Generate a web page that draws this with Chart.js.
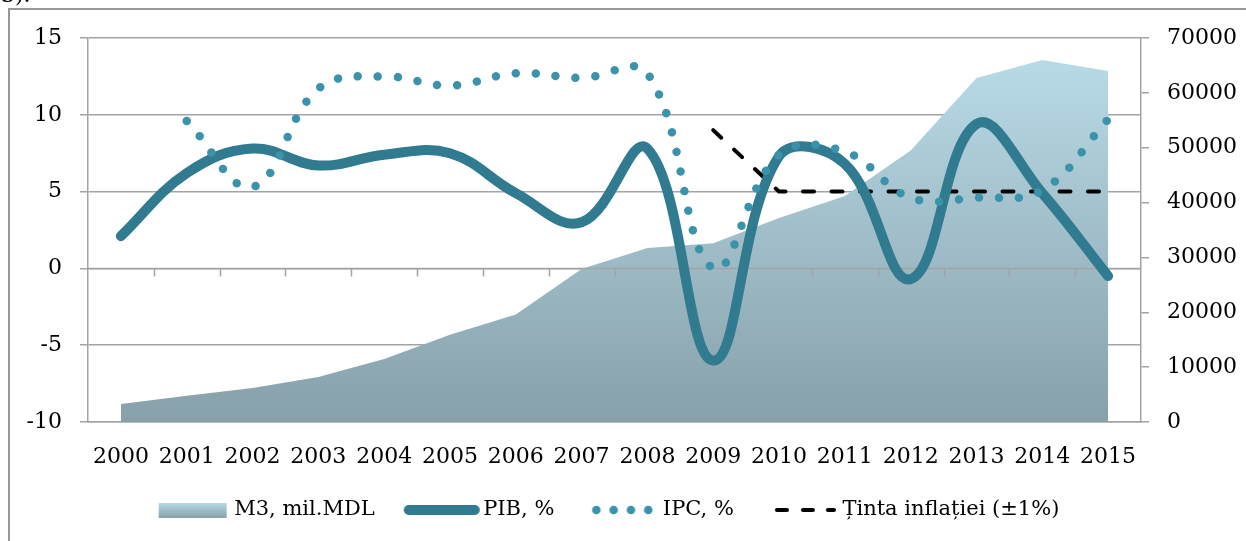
<!DOCTYPE html>
<html>
<head>
<meta charset="utf-8">
<script src="https://cdn.jsdelivr.net/npm/chart.js@4/dist/chart.umd.min.js"></script>
<style>
  html, body { margin: 0; padding: 0; background: #fff; overflow: hidden; }
  #wrap { position: relative; width: 1246px; height: 541px; }
  #frame { position: absolute; left: 8px; top: 8px; width: 1300px; height: 600px; border: 2px solid #979797; pointer-events: none; }
  #note { position: absolute; left: 1px; top: -18px; font: 22px 'DejaVu Serif', serif; color: #000; }
</style>
</head>
<body>
<div id="wrap">
  <canvas id="myChart" width="1246" height="541"></canvas>
  <div id="frame"></div>
  <div id="note">3).</div>
</div>
<script>
// --- data ---
const years = ['2000', '2001', '2002', '2003', '2004', '2005', '2006', '2007',
               '2008', '2009', '2010', '2011', '2012', '2013', '2014', '2015'];
const m3Values = [3300, 4800, 6200, 8200, 11500, 15900, 19600, 27900,
                  31700, 32600, 37200, 41200, 49500, 62700, 66000, 64000];
const pibValues = [2.1, 6.2, 7.8, 6.7, 7.4, 7.5, 4.9, 3.0,
                   7.8, -6.0, 7.3, 6.8, -0.7, 9.4, 4.9, -0.5];
const ipcValues = [null, 9.6, 5.3, 11.7, 12.5, 11.9, 12.7, 12.4,
                   12.7, 0.0, 7.4, 7.6, 4.6, 4.6, 5.1, 9.7];
const targetValues = [null, null, null, null, null, null, null, null,
                      null, 9, 5, 5, 5, 5, 5, 5];
const leftTicks = [-10, -5, 0, 5, 10, 15];
const rightTicks = [0, 10000, 20000, 30000, 40000, 50000, 60000, 70000];
const seriesNames = ['M3, mil.MDL', 'PIB, %', 'IPC, %', 'Ținta inflației (±1%)'];

const pibColor = '#307b8f';
const ipcColor = '#3a93aa';
const gridColor = '#a3a3a3';
const tickFont = { family: "'DejaVu Serif', serif", size: 22 };
const legendFont = { family: "'DejaVu Serif', serif", size: 21 };

// --- legend markers (drawn into small canvases, used as point styles) ---
const BOX_W = 70;
const SIDE = 30;
function markerCanvas(left, drawFn) {
    const c = document.createElement('canvas');
    c.width = BOX_W + SIDE * 2;
    c.height = 24;
    const g = c.getContext('2d');
    drawFn(g, left, 12);
    return c;
}

const m3Marker = markerCanvas(35, (g, x, cy) => {
    const grad = g.createLinearGradient(0, cy - 7, 0, cy + 8);
    grad.addColorStop(0, '#b8dae7');
    grad.addColorStop(1, '#87a0aa');
    g.fillStyle = grad;
    g.fillRect(x, cy - 7, 68, 15);
});
const pibMarker = markerCanvas(31, (g, x, cy) => {
    g.strokeStyle = pibColor;
    g.lineWidth = 10;
    g.lineCap = 'round';
    g.beginPath();
    g.moveTo(x + 5, cy);
    g.lineTo(x + 71, cy);
    g.stroke();
});
const ipcMarker = markerCanvas(40, (g, x, cy) => {
    g.fillStyle = ipcColor;
    for (let i = 0; i < 4; i++) {
        g.beginPath();
        g.arc(x + 4 + i * 17.3, cy, 4.3, 0, Math.PI * 2);
        g.fill();
    }
});
const targetMarker = markerCanvas(43, (g, x, cy) => {
    g.strokeStyle = '#000';
    g.lineWidth = 4;
    g.lineCap = 'round';
    [[2, 12], [28, 38], [53, 59]].forEach(([a, b]) => {
        g.beginPath();
        g.moveTo(x + a, cy);
        g.lineTo(x + b, cy);
        g.stroke();
    });
});
const markers = [m3Marker, pibMarker, ipcMarker, targetMarker];

// --- zero line with category tick marks, drawn over the area ---
const zeroAxisPlugin = {
    id: 'zeroAxis',
    afterDatasetDraw(chart, args) {
        if (args.index !== 0) return;
        const { ctx, chartArea, scales } = chart;
        const y0 = Math.round(scales.y.getPixelForValue(0)) + 0.5;
        ctx.save();
        ctx.strokeStyle = gridColor;
        ctx.lineWidth = 1.5;
        ctx.beginPath();
        ctx.moveTo(chartArea.left, y0);
        ctx.lineTo(chartArea.right, y0);
        for (let i = 1; i < years.length; i++) {
            const xb = Math.round((scales.x.getPixelForValue(i - 1) + scales.x.getPixelForValue(i)) / 2) + 0.5;
            ctx.moveTo(xb, y0);
            ctx.lineTo(xb, y0 + 8);
        }
        ctx.stroke();
        ctx.restore();
    }
};

// the legend in the picture sits a bit left of centre
const legendShiftPlugin = {
    id: 'legendShift',
    afterLayout(chart) {
        chart.legend.right -= 33;
        chart.legend.width -= 33;
    }
};

const ctx = document.getElementById('myChart').getContext('2d');
new Chart(ctx, {
    type: 'line',
    data: {
        labels: years,
        datasets: [
            {
                label: seriesNames[0],
                data: m3Values,
                yAxisID: 'y1',
                order: 4,
                fill: 'origin',
                tension: 0,
                borderWidth: 0,
                pointRadius: 0,
                backgroundColor: (c) => {
                    const chart = c.chart;
                    const area = chart.chartArea;
                    if (!area) return '#a3bcc6';
                    const top = chart.scales.y1.getPixelForValue(Math.max(...m3Values));
                    const grad = chart.ctx.createLinearGradient(0, top, 0, area.bottom);
                    grad.addColorStop(0, '#b8dae7');
                    grad.addColorStop(1, '#87a0aa');
                    return grad;
                }
            },
            {
                label: seriesNames[1],
                data: pibValues,
                yAxisID: 'y',
                order: 2,
                borderColor: pibColor,
                borderWidth: 10,
                borderCapStyle: 'round',
                borderJoinStyle: 'round',
                tension: 0.4,
                pointRadius: 0,
                fill: false
            },
            {
                label: seriesNames[2],
                data: ipcValues,
                yAxisID: 'y',
                order: 1,
                borderColor: ipcColor,
                borderWidth: 8.5,
                borderDash: [0.01, 19.99],
                borderCapStyle: 'round',
                tension: 0.4,
                pointRadius: 0,
                fill: false
            },
            {
                label: seriesNames[3],
                data: targetValues,
                yAxisID: 'y',
                order: 3,
                borderColor: '#000',
                borderWidth: 4,
                borderDash: [11, 17.5],
                borderCapStyle: 'round',
                tension: 0,
                pointRadius: 0,
                fill: false
            }
        ]
    },
    options: {
        responsive: false,
        animation: false,
        events: [],
        layout: { padding: { top: 38, left: 0, right: 0, bottom: 10.5 } },
        plugins: {
            tooltip: { enabled: false },
            legend: {
                position: 'bottom',
                labels: {
                    usePointStyle: true,
                    pointStyleWidth: BOX_W,
                    padding: 28,
                    color: '#000',
                    font: legendFont,
                    generateLabels: () => seriesNames.map((name, i) => ({
                        text: name,
                        pointStyle: markers[i],
                        fillStyle: 'transparent',
                        strokeStyle: 'transparent',
                        lineWidth: 0,
                        hidden: false,
                        datasetIndex: i
                    }))
                }
            }
        },
        scales: {
            x: {
                offset: true,
                grid: { display: false },
                border: { display: true, color: gridColor, width: 1.5 },
                ticks: { color: '#000', font: tickFont, padding: 14, maxRotation: 0, autoSkip: false },
                afterFit: (s) => { s.height = 49.5; }
            },
            y: {
                position: 'left',
                min: leftTicks[0],
                max: leftTicks[leftTicks.length - 1],
                ticks: { stepSize: 5, color: '#000', font: tickFont, padding: 18, callback: (v) => String(v) },
                grid: { color: gridColor, lineWidth: 1.5, tickLength: 8 },
                border: { color: gridColor, width: 1.5 },
                afterFit: (s) => { s.width = 88; }
            },
            y1: {
                position: 'right',
                min: rightTicks[0],
                max: rightTicks[rightTicks.length - 1],
                ticks: { stepSize: 10000, color: '#000', font: tickFont, padding: 18, callback: (v) => String(v) },
                grid: { drawOnChartArea: false, color: gridColor, lineWidth: 1.5, tickLength: 8 },
                border: { color: gridColor, width: 1.5 },
                afterFit: (s) => { s.width = 105; }
            }
        }
    },
    plugins: [zeroAxisPlugin, legendShiftPlugin]
});
</script>
</body>
</html>
